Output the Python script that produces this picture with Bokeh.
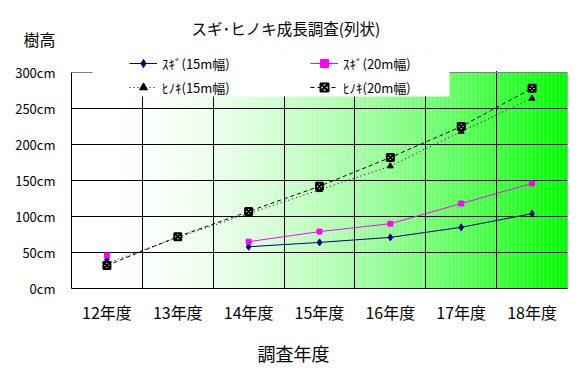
from bokeh.plotting import figure
from bokeh.models import (Range1d, FixedTicker, PrintfTickFormatter, Legend, LegendItem,
                          Title, BoxAnnotation)
from bokeh.embed import file_html
from bokeh.resources import INLINE

# ---- data ----
categories = ["12年度", "13年度", "14年度", "15年度", "16年度", "17年度", "18年度"]
nan = float("nan")
sugi_15 = [40, nan, 58, 64, 71, 85, 104]
sugi_20 = [46, nan, 65, 79, 90, 118, 146]
hinoki_15 = [35, 71, 104, 137, 170, 218, 264]
hinoki_20 = [32, 72, 107, 142, 182, 225, 278]
y_ticks = [0, 50, 100, 150, 200, 250, 300]
series_names = ["ｽｷﾞ(15m幅)", "ｽｷﾞ(20m幅)", "ﾋﾉｷ(15m幅)", "ﾋﾉｷ(20m幅)"]
title_text = "スギ･ヒノキ成長調査(列状)"
y_title = "樹高"
x_title = "調査年度"

FONT = "Noto Sans CJK JP"
n = len(categories)
xs = [i + 0.5 for i in range(n)]
y_max = 300

# layout (page pixels)
FL, FR, FT, FB = 71, 567, 50, 288      # frame edges
TOP300 = 72                             # pixel row of 300cm
px_per_val = (FB - TOP300) / y_max
y_end = y_max + (TOP300 - FT) / px_per_val
fw = FR - FL

def xv(px):
    return (px - FL) / fw * n

def yv(py):
    return (FB - py) / px_per_val

p = figure(width=586, height=377, output_backend="svg", toolbar_location=None,
           x_range=Range1d(0, n), y_range=Range1d(0, y_end),
           min_border_left=FL, min_border_right=586 - FR, min_border_top=FT,
           min_border_bottom=377 - FB)
p.background_fill_color = "white"
p.border_fill_color = "white"
p.outline_line_color = None

# gradient background (white -> green), drawn under the grid
N = 124
lefts, rights, cols = [], [], []
white_frac = 23 / fw
for k in range(N):
    a = n * k / N
    b = n * (k + 1) / N
    f = (a + b) / 2 / n
    t = max(0.0, (f - white_frac) / (1 - white_frac))
    v = int(round(255 * (1 - t ** 1.8)))
    lefts.append(a); rights.append(b + 0.002)
    cols.append("#%02x%02x%02x" % (v, 255, v))
bg = p.quad(left=lefts, right=rights, bottom=0, top=y_max, fill_color=cols, line_color=None)
bg.level = "image"

# plot-area border (top and right, grey)
p.line([0, n, n], [y_max, y_max, 0], line_color="#808080", line_width=1)

# grids
p.xgrid.ticker = FixedTicker(ticks=list(range(1, n)))
p.ygrid.ticker = FixedTicker(ticks=y_ticks[1:-1])
for g in (p.xgrid[0], p.ygrid[0]):
    g.grid_line_color = "black"
    g.grid_line_width = 1
    g.grid_line_alpha = 1

# axes
p.xaxis.ticker = FixedTicker(ticks=xs)
p.xaxis.major_label_overrides = {x: c for x, c in zip(xs, categories)}
p.yaxis.ticker = FixedTicker(ticks=y_ticks)
p.yaxis.formatter = PrintfTickFormatter(format="%dcm")
p.yaxis.bounds = (0, y_max)
for ax in (p.xaxis[0], p.yaxis[0]):
    ax.axis_line_color = "black"
    ax.axis_line_width = 1
    ax.major_tick_line_color = None
    ax.minor_tick_line_color = None
    ax.major_tick_out = 0
    ax.major_tick_in = 0
    ax.minor_tick_out = 0
    ax.minor_tick_in = 0
    ax.major_label_text_font = FONT
    ax.major_label_text_color = "black"
p.xaxis.major_label_text_font_size = "16px"
p.yaxis.major_label_text_font_size = "13px"
p.xaxis.major_label_standoff = 11
p.yaxis.major_label_standoff = 16

# white areas: above the plot area and behind the legend
p.add_layout(BoxAnnotation(left=xv(92), right=n + 0.1, bottom=y_max + 2.0, top=y_end + 5,
                           fill_color="white", fill_alpha=1, line_color=None))
p.add_layout(BoxAnnotation(left=xv(92), right=xv(449), bottom=yv(96), top=y_end + 5,
                           fill_color="white", fill_alpha=1, line_color=None))

# series
l1 = p.line(xs, sugi_15, line_color="#000080", line_width=1)
s1 = p.scatter(xs, sugi_15, marker="diamond", size=7, fill_color="#000080", line_color="#000080")
l2 = p.line(xs, sugi_20, line_color="#ff00ff", line_width=1)
s2 = p.scatter(xs, sugi_20, marker="square", size=5, fill_color="#ff00ff", line_color="#ff00ff")
l3 = p.line(xs, hinoki_15, line_color="black", line_width=1, line_dash="1 3")
s3 = p.scatter(xs, hinoki_15, marker="triangle", size=6, fill_color="black", line_color="black")
l4 = p.line(xs, hinoki_20, line_color="black", line_width=1, line_dash="4 3")
s4 = p.scatter(xs, hinoki_20, marker="square_x", size=7, fill_color="white", line_color="black",
               line_width=2)

items = [LegendItem(label=series_names[0], renderers=[l1, s1]),
         LegendItem(label=series_names[1], renderers=[l2, s2]),
         LegendItem(label=series_names[2], renderers=[l3, s3]),
         LegendItem(label=series_names[3], renderers=[l4, s4])]
legend = Legend(items=items, ncols=2, orientation="horizontal", location=(129 - FL, FB - 97),
                padding=0, margin=0, spacing=4, glyph_width=28, glyph_height=20,
                label_standoff=5, label_width=144,
                label_text_font=FONT, label_text_font_size="13px", label_text_color="black",
                background_fill_alpha=0, border_line_color=None)
p.add_layout(legend)

# texts outside the plot area
p.add_layout(Title(text=y_title, align="left", offset=23 - FL, standoff=0,
                   text_font=FONT, text_font_size="16px", text_font_style="normal",
                   text_color="black"), "above")
p.add_layout(Title(text=title_text, align="left", offset=191 - FL, standoff=-28,
                   text_font=FONT, text_font_size="15.5px", text_font_style="normal",
                   text_color="black"), "above")
p.add_layout(Title(text=x_title, align="left", offset=257 - FL, standoff=22,
                   text_font=FONT, text_font_size="18px", text_font_style="normal",
                   text_color="black"), "below")

open("out.html", "w").write(file_html(p, INLINE))
